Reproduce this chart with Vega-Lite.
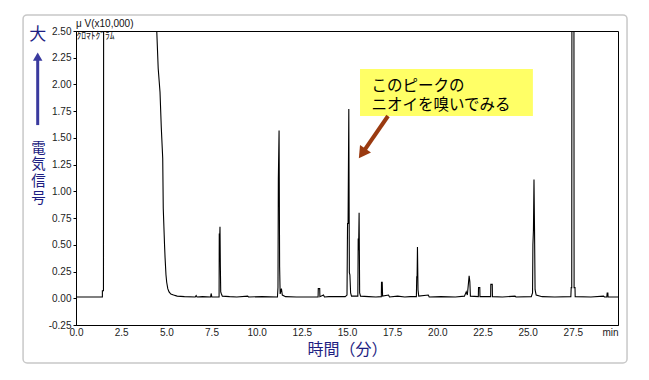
{
  "$schema": "https://vega.github.io/schema/vega-lite/v6.json",
  "width": 542,
  "height": 294,
  "autosize": {"type": "none"},
  "padding": {"left": 76, "top": 31, "right": 31, "bottom": 55},
  "background": "white",
  "config": {
    "view": {"stroke": "black", "strokeWidth": 1},
    "axis": {"labelOverlap": false, "labelBound": false, "labelFlush": false}
  },
  "resolve": {"axis": {"x": "independent", "y": "independent"}},
  "data": {"values": [{"one": 1}]},
  "datasets": {
    "trace": [
      {"t":0,"v":0.012},{"t":1.46,"v":0.012},{"t":1.46,"v":0.07},{"t":1.52,"v":0.07},{"t":1.53,"v":3},{"t":4.44,"v":3},{"t":4.47,"v":2.5},{"t":4.55,"v":2.15},{"t":4.65,"v":1.93},{"t":4.72,"v":1.6},{"t":4.8,"v":1.31},{"t":4.83,"v":0.84},{"t":4.9,"v":0.5},{"t":4.93,"v":0.38},{"t":4.98,"v":0.22},{"t":5.02,"v":0.15},{"t":5.08,"v":0.09},{"t":5.15,"v":0.06},{"t":5.25,"v":0.04},{"t":5.4,"v":0.03},{"t":5.6,"v":0.02},{"t":6.0,"v":0.015},{"t":6.6,"v":0.012},{"t":6.65,"v":0.025},{"t":6.7,"v":0.012},{"t":7.0,"v":0.015},{"t":7.45,"v":0.012},{"t":7.48,"v":0.045},{"t":7.52,"v":0.012},{"t":7.92,"v":0.012},{"t":7.93,"v":0.6},{"t":7.96,"v":0.6},{"t":7.97,"v":0.67},{"t":7.99,"v":0.3},{"t":8.01,"v":0.06},{"t":8.05,"v":0.04},{"t":8.1,"v":0.02},{"t":8.5,"v":0.015},{"t":8.9,"v":0.012},{"t":9.5,"v":0.02},{"t":9.55,"v":0.012},{"t":10.3,"v":0.015},{"t":11.15,"v":0.012},{"t":11.18,"v":0.1},{"t":11.2,"v":1.12},{"t":11.24,"v":1.57},{"t":11.27,"v":0.3},{"t":11.3,"v":0.04},{"t":11.37,"v":0.09},{"t":11.42,"v":0.03},{"t":11.6,"v":0.015},{"t":12.2,"v":0.012},{"t":13.4,"v":0.012},{"t":13.41,"v":0.09},{"t":13.49,"v":0.09},{"t":13.5,"v":0.015},{"t":13.7,"v":0.03},{"t":13.75,"v":0.012},{"t":14.0,"v":0.015},{"t":14.9,"v":0.015},{"t":15.0,"v":0.03},{"t":15.03,"v":0.7},{"t":15.06,"v":0.7},{"t":15.1,"v":1.77},{"t":15.13,"v":0.24},{"t":15.16,"v":0.22},{"t":15.2,"v":0.05},{"t":15.25,"v":0.02},{"t":15.6,"v":0.02},{"t":15.62,"v":0.56},{"t":15.64,"v":0.45},{"t":15.67,"v":0.8},{"t":15.7,"v":0.05},{"t":15.75,"v":0.02},{"t":16.2,"v":0.015},{"t":16.6,"v":0.012},{"t":16.9,"v":0.015},{"t":16.91,"v":0.15},{"t":16.95,"v":0.15},{"t":16.97,"v":0.02},{"t":17.3,"v":0.03},{"t":17.35,"v":0.012},{"t":17.8,"v":0.02},{"t":18.2,"v":0.012},{"t":18.5,"v":0.015},{"t":18.84,"v":0.015},{"t":18.86,"v":0.2},{"t":18.88,"v":0.2},{"t":18.9,"v":0.48},{"t":18.93,"v":0.08},{"t":18.97,"v":0.02},{"t":19.5,"v":0.03},{"t":19.55,"v":0.012},{"t":20.2,"v":0.015},{"t":21.0,"v":0.012},{"t":21.5,"v":0.02},{"t":21.6,"v":0.06},{"t":21.66,"v":0.03},{"t":21.7,"v":0.1},{"t":21.76,"v":0.21},{"t":21.8,"v":0.155},{"t":21.83,"v":0.02},{"t":22.27,"v":0.015},{"t":22.28,"v":0.1},{"t":22.35,"v":0.1},{"t":22.36,"v":0.015},{"t":22.95,"v":0.015},{"t":22.96,"v":0.13},{"t":23.04,"v":0.13},{"t":23.05,"v":0.015},{"t":23.6,"v":0.012},{"t":24.3,"v":0.02},{"t":24.35,"v":0.012},{"t":25.2,"v":0.015},{"t":25.27,"v":0.05},{"t":25.29,"v":0.5},{"t":25.32,"v":0.64},{"t":25.35,"v":1.11},{"t":25.38,"v":0.64},{"t":25.41,"v":0.08},{"t":25.47,"v":0.03},{"t":25.8,"v":0.015},{"t":26.5,"v":0.012},{"t":27.39,"v":0.015},{"t":27.41,"v":0.1},{"t":27.44,"v":0.1},{"t":27.45,"v":3},{"t":27.56,"v":3},{"t":27.57,"v":0.1},{"t":27.62,"v":0.1},{"t":27.63,"v":0.015},{"t":28.5,"v":0.012},{"t":29.2,"v":0.02},{"t":29.25,"v":0.012},{"t":29.38,"v":0.012},{"t":29.4,"v":0.05},{"t":29.44,"v":0.05},{"t":29.45,"v":0.012},{"t":30,"v":0.012}
    ],
    "note": [{"text": "このピークの\nニオイを嗅いでみる"}],
    "chrom": [{"text": "ｸﾛﾏﾄｸﾞﾗﾑ"}],
    "unit": [{"text": "μ V(x10,000)"}],
    "big": [{"text": "大"}]
  },
  "layer": [
    {
      "data": {"name": "trace"},
      "mark": {"type": "line", "color": "#000", "strokeWidth": 1.1, "clip": true, "interpolate": "linear"},
      "encoding": {
        "x": {
          "field": "t", "type": "quantitative",
          "scale": {"domain": [0, 30], "nice": false, "zero": false},
          "axis": {
            "values": [0, 2.5, 5, 7.5, 10, 12.5, 15, 17.5, 20, 22.5, 25, 27.5, 30],
            "labelExpr": "datum.value == 30 ? 'min' : format(datum.value, '.1f')",
            "labelAlign": {"condition": {"test": "datum.value == 30", "value": "right"}, "value": "center"},
            "labelOverlap": false,
            "ticks": false, "grid": false, "domainColor": "#000",
            "labelFont": "Liberation Sans", "labelFontSize": 10, "labelColor": "#222", "labelPadding": 2,
            "title": "時間（分）", "titleFont": "Noto Sans CJK JP", "titleFontSize": 16, "titleFontWeight": "normal", "titleColor": "#1e1e82", "titlePadding": 4
          }
        },
        "y": {
          "field": "v", "type": "quantitative",
          "scale": {"domain": [-0.25, 2.5], "nice": false, "zero": false},
          "axis": {
            "values": [-0.25, 0, 0.25, 0.5, 0.75, 1, 1.25, 1.5, 1.75, 2, 2.25, 2.5],
            "labelExpr": "replace(format(datum.value, '.2f'), '\u2212', '-')",
            "labelOverlap": false,
            "tickSize": 3, "tickColor": "#000", "grid": false, "domainColor": "#000",
            "labelFont": "Liberation Sans", "labelFontSize": 10, "labelColor": "#222", "labelPadding": 2,
            "title": ["電", "気", "信", "号"], "titleAngle": 0, "titleX": -38, "titleY": 110, "titleAlign": "center", "titleBaseline": "top",
            "titleFont": "Noto Sans CJK JP", "titleFontSize": 14.5, "titleLineHeight": 16.8, "titleFontWeight": "normal", "titleColor": "#1e1e82"
          }
        }
      }
    },
    {
      "mark": {"type": "rect", "fill": null, "stroke": "#c8c8c8", "strokeWidth": 1.5, "cornerRadius": 4, "clip": false},
      "encoding": {
        "x": {"datum": -2.93, "type": "quantitative", "axis": null},
        "x2": {"datum": 30.5},
        "y": {"datum": 2.65, "type": "quantitative", "axis": null},
        "y2": {"datum": -0.605}
      }
    },
    {
      "mark": {"type": "rect", "fill": "#ffff66", "stroke": null},
      "encoding": {
        "x": {"datum": 15.72, "type": "quantitative", "axis": null},
        "x2": {"datum": 25.29},
        "y": {"datum": 2.145, "type": "quantitative", "axis": null},
        "y2": {"datum": 1.705}
      }
    },
    {
      "data": {"name": "note"},
      "mark": {"type": "text", "align": "left", "baseline": "middle", "lineBreak": "\n", "lineHeight": 19, "font": "Noto Sans CJK JP", "fontSize": 15.5, "color": "#000"},
      "encoding": {
        "text": {"field": "text"},
        "x": {"datum": 16.35, "type": "quantitative", "axis": null},
        "y": {"datum": 1.99, "type": "quantitative", "axis": null}
      }
    },
    {
      "mark": {"type": "rule", "color": "#9a3a10", "strokeWidth": 4},
      "encoding": {
        "x": {"datum": 17.27, "type": "quantitative", "axis": null},
        "x2": {"datum": 15.9},
        "y": {"datum": 1.705, "type": "quantitative", "axis": null},
        "y2": {"datum": 1.37}
      }
    },
    {
      "mark": {"type": "point", "shape": "triangle-up", "filled": true, "color": "#9a3a10", "size": 180, "angle": 215, "opacity": 1},
      "encoding": {
        "x": {"datum": 15.84, "type": "quantitative", "axis": null},
        "y": {"datum": 1.354, "type": "quantitative", "axis": null}
      }
    },
    {
      "mark": {"type": "rule", "color": "#3a3a9e", "strokeWidth": 3, "clip": false},
      "encoding": {
        "x": {"datum": -2.12, "type": "quantitative", "axis": null},
        "y": {"datum": 2.24, "type": "quantitative", "axis": null},
        "y2": {"datum": 1.62}
      }
    },
    {
      "mark": {"type": "point", "shape": "triangle-up", "filled": true, "color": "#3a3a9e", "size": 90, "opacity": 1, "clip": false},
      "encoding": {
        "x": {"datum": -2.12, "type": "quantitative", "axis": null},
        "y": {"datum": 2.26, "type": "quantitative", "axis": null}
      }
    },
    {
      "data": {"name": "big"},
      "mark": {"type": "text", "align": "center", "baseline": "middle", "font": "Noto Sans CJK JP", "fontSize": 17, "color": "#1e1e82", "clip": false},
      "encoding": {
        "text": {"field": "text"},
        "x": {"datum": -2.12, "type": "quantitative", "axis": null},
        "y": {"datum": 2.46, "type": "quantitative", "axis": null}
      }
    },
    {
      "data": {"name": "unit"},
      "mark": {"type": "text", "align": "left", "baseline": "alphabetic", "font": "Liberation Sans", "fontSize": 10, "color": "#111", "clip": false},
      "encoding": {
        "text": {"field": "text"},
        "x": {"datum": 0, "type": "quantitative", "axis": null},
        "y": {"datum": 2.535, "type": "quantitative", "axis": null}
      }
    },
    {
      "data": {"name": "chrom"},
      "mark": {"type": "text", "align": "left", "baseline": "top", "font": "Noto Sans CJK JP", "fontSize": 9.5, "color": "#111"},
      "encoding": {
        "text": {"field": "text"},
        "x": {"datum": 0.03, "type": "quantitative", "axis": null},
        "y": {"datum": 2.5, "type": "quantitative", "axis": null}
      }
    }
  ]
}
